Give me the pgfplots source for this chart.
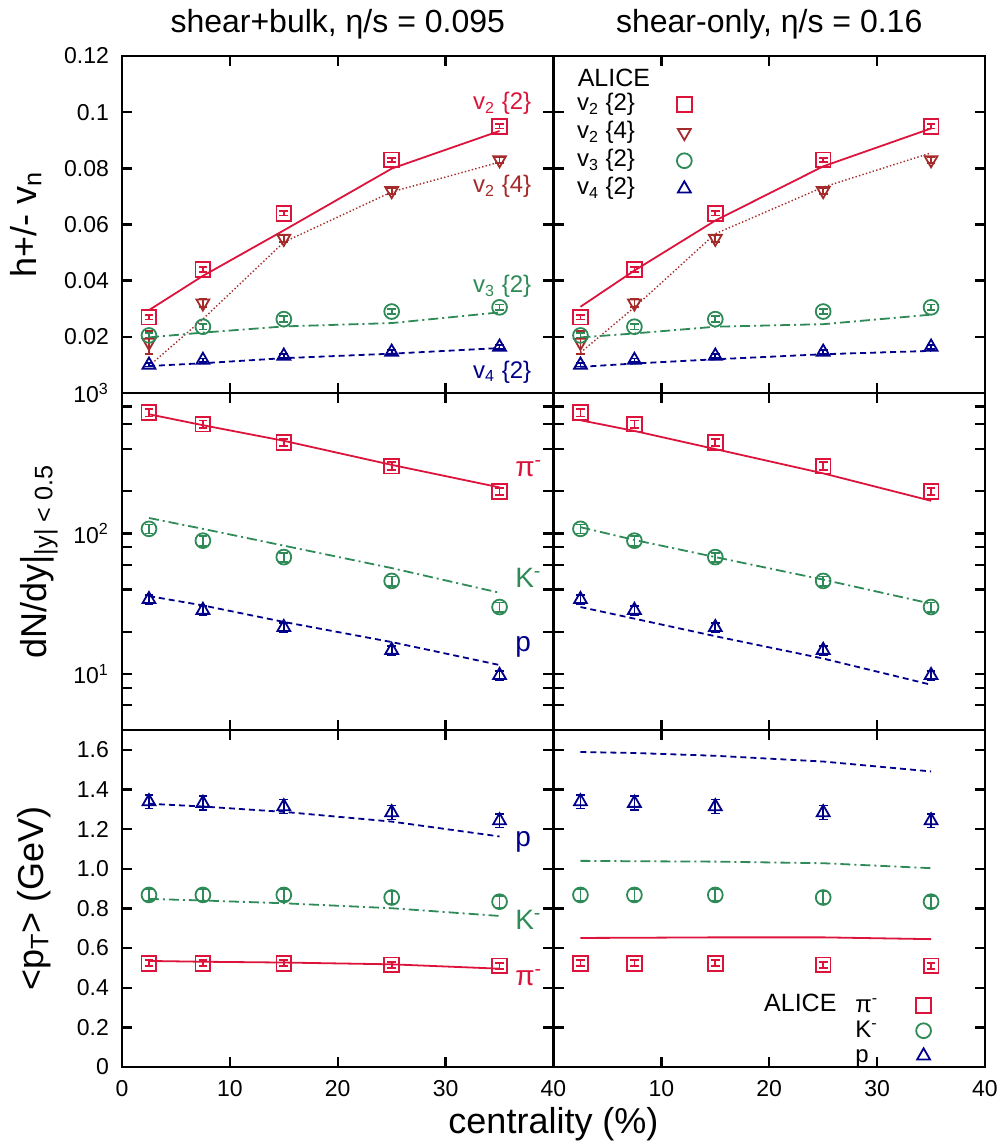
\documentclass[border=0pt]{standalone}
\usepackage{fontspec}
\setmainfont{Liberation Sans}
\usepackage{pgfplots}
\pgfplotsset{compat=1.18}
\usepgfplotslibrary{groupplots}

\definecolor{cred}{RGB}{220,20,60}
\definecolor{cbrown}{RGB}{165,42,42}
\definecolor{cgreen}{RGB}{46,139,87}
\definecolor{cblue}{RGB}{0,0,139}

\newcommand{\ann}{\fontsize{12}{14}\selectfont}
\newcommand{\pann}{\fontsize{14}{16}\selectfont}

\pgfplotsset{
  panel/.style={
    scale only axis, width=215.75pt, height=168.5pt,
    xmin=0, xmax=40, xtick={0,10,20,30,40},
    tick align=inside, tick pos=both,
    major tick length=5pt, minor tick length=5pt,
    axis line style={line width=1.4pt},
    every tick/.style={black, line width=1.2pt},
    ticklabel style={font=\fontsize{11.5}{13}\selectfont},
    xticklabel style={yshift=-3pt},
    yticklabel style={xshift=-3pt},
    xticklabels={}, yticklabels={},
    clip=false,
    every axis y label/.style={rotate=90, anchor=base, font=\fontsize{18}{20}\selectfont},
  },
  model/.style={line width=0.9pt, no marks},
  data/.style={only marks, line width=0.9pt, mark size=3.7pt, mark options={solid},
    error bars/y dir=both, error bars/y explicit,
    error bars/error bar style={line width=0.9pt, solid},
    error bars/error mark options={rotate=90, mark size=2.2pt, line width=0.9pt}},
  dsh/.style={dash pattern=on 3pt off 2pt},
  dshdot/.style={dash pattern=on 5pt off 2pt on 1pt off 2pt},
  dots/.style={line width=0.7pt, dash pattern=on 0.7pt off 1.1pt},
}

\begin{document}
\begin{tikzpicture}
\begin{groupplot}[group style={group name=G, group size=2 by 3, horizontal sep=0pt, vertical sep=0pt}, panel]

% ---------- row 1: flow harmonics, shear+bulk
\nextgroupplot[ymin=0, ymax=0.12, ytick={0,0.02,0.04,0.06,0.08,0.1,0.12},
  yticklabels={,0.02,0.04,0.06,0.08,0.1,0.12},
  ylabel={h+/- v\textsubscript{n}}, ylabel style={at={(rel axis cs:-0.199,0.5)}}]
\addplot[model, cred] coordinates {(2.5,0.0295) (7.5,0.0417) (15,0.0579) (25,0.0799) (35,0.0933)};
\addplot[model, cbrown, dots] coordinates {(2.5,0.0096) (7.5,0.0263) (15,0.0537) (25,0.0716) (35,0.0822)};
\addplot[model, cgreen, dshdot] coordinates {(2.5,0.0198) (7.5,0.0215) (15,0.0237) (25,0.0249) (35,0.0287)};
\addplot[model, cblue, dsh] coordinates {(2.5,0.0096) (7.5,0.0106) (15,0.0124) (25,0.0140) (35,0.0160)};
\addplot[data, cred, mark=square] coordinates {(2.5,0.027) +- (0,0.0008) (7.5,0.044) +- (0,0.0008) (15,0.064) +- (0,0.0008) (25,0.083) +- (0,0.0008) (35,0.095) +- (0,0.0008)};
\addplot[data, cbrown, mark=triangle, mark options={rotate=180}] coordinates {(2.5,0.018) +- (0,0.004) (7.5,0.032) +- (0,0.0015) (15,0.055) +- (0,0.0012) (25,0.072) +- (0,0.001) (35,0.083) +- (0,0.001)};
\addplot[data, cgreen, mark=o] coordinates {(2.5,0.0205) +- (0,0.001) (7.5,0.0236) +- (0,0.001) (15,0.0263) +- (0,0.001) (25,0.029) +- (0,0.001) (35,0.0305) +- (0,0.001)};
\addplot[data, cblue, mark=triangle] coordinates {(2.5,0.0100) +- (0,0.0006) (7.5,0.0117) +- (0,0.0006) (15,0.0132) +- (0,0.0006) (25,0.0146) +- (0,0.0006) (35,0.0164) +- (0,0.0006)};
\node[anchor=west, text=cred, font=\ann] at (axis cs:31.9,0.103) {v\textsubscript{2} \{2\}};
\node[anchor=west, text=cbrown, font=\ann] at (axis cs:31.9,0.0736) {v\textsubscript{2} \{4\}};
\node[anchor=west, text=cgreen, font=\ann] at (axis cs:31.9,0.0379) {v\textsubscript{3} \{2\}};
\node[anchor=west, text=cblue, font=\ann] at (axis cs:31.9,0.0075) {v\textsubscript{4} \{2\}};

% ---------- row 1: flow harmonics, shear-only
\nextgroupplot[ymin=0, ymax=0.12, ytick={0,0.02,0.04,0.06,0.08,0.1,0.12},
  legend style={at={(rel axis cs:0.035,0.91)}, anchor=north west, draw=none, fill=none,
    font=\ann, row sep=0pt, column sep=20pt, nodes={inner sep=1pt, text height=9pt, text depth=3pt}},
  legend plot pos=right, legend cell align=left]
\addplot[model, cred, forget plot] coordinates {(2.5,0.0307) (7.5,0.0436) (15,0.0614) (25,0.0807) (35,0.0942)};
\addplot[model, cbrown, dots, forget plot] coordinates {(2.5,0.0144) (7.5,0.0305) (15,0.0567) (25,0.0733) (35,0.0855)};
\addplot[model, cgreen, dshdot, forget plot] coordinates {(2.5,0.0198) (7.5,0.0212) (15,0.0236) (25,0.0245) (35,0.0279)};
\addplot[model, cblue, dsh, forget plot] coordinates {(2.5,0.0093) (7.5,0.0105) (15,0.0120) (25,0.0138) (35,0.0150)};
\addplot[data, cred, mark=square] coordinates {(2.5,0.027) +- (0,0.0008) (7.5,0.044) +- (0,0.0008) (15,0.064) +- (0,0.0008) (25,0.083) +- (0,0.0008) (35,0.095) +- (0,0.0008)};
\addlegendentry{v\textsubscript{2} \{2\}}
\addplot[data, cbrown, mark=triangle, mark options={rotate=180}] coordinates {(2.5,0.018) +- (0,0.004) (7.5,0.032) +- (0,0.0015) (15,0.055) +- (0,0.0012) (25,0.072) +- (0,0.001) (35,0.083) +- (0,0.001)};
\addlegendentry{v\textsubscript{2} \{4\}}
\addplot[data, cgreen, mark=o] coordinates {(2.5,0.0205) +- (0,0.001) (7.5,0.0236) +- (0,0.001) (15,0.0263) +- (0,0.001) (25,0.029) +- (0,0.001) (35,0.0305) +- (0,0.001)};
\addlegendentry{v\textsubscript{3} \{2\}}
\addplot[data, cblue, mark=triangle] coordinates {(2.5,0.0100) +- (0,0.0006) (7.5,0.0117) +- (0,0.0006) (15,0.0132) +- (0,0.0006) (25,0.0146) +- (0,0.0006) (35,0.0164) +- (0,0.0006)};
\addlegendentry{v\textsubscript{4} \{2\}}
\node[anchor=west, font=\fontsize{12.5}{14}\selectfont] at (rel axis cs:0.04,0.935) {ALICE};

% ---------- row 2: yields, shear+bulk
\nextgroupplot[ymode=log, ymin=4, ymax=1000, ytick={10,100,1000},
  minor ytick={6,8,20,40,60,80,200,400,600,800},
  yticklabels={10\textsuperscript{1},10\textsuperscript{2},10\textsuperscript{3}},
  ylabel={dN/dy|\textsubscript{|y| < 0.5}}, ylabel style={at={(rel axis cs:-0.176,0.5)}}]
\addplot[model, cred] coordinates {(2.5,706) (7.5,590) (15,457) (25,308) (35,213)};
\addplot[model, cgreen, dshdot] coordinates {(2.5,129) (7.5,108) (15,82) (25,56.8) (35,37.9)};
\addplot[model, cblue, dsh] coordinates {(2.5,35.9) (7.5,30.8) (15,23.5) (25,16.9) (35,11.6)};
\addplot[data, cred, mark=square] coordinates {(2.5,725) +- (0,45) (7.5,600) +- (0,37) (15,444) +- (0,27) (25,302) +- (0,19) (35,199) +- (0,12)};
\addplot[data, cgreen, mark=o] coordinates {(2.5,108) +- (0,8) (7.5,89) +- (0,7) (15,68) +- (0,5) (25,46) +- (0,3.5) (35,30) +- (0,2.3)};
\addplot[data, cblue, mark=triangle] coordinates {(2.5,34) +- (0,2.6) (7.5,28.5) +- (0,2.2) (15,21.5) +- (0,1.6) (25,14.8) +- (0,1.1) (35,9.8) +- (0,0.7)};
\node[anchor=west, text=cred, font=\pann] at (axis cs:35.8,289) {π\textsuperscript{-}};
\node[anchor=west, text=cgreen, font=\pann] at (axis cs:35.8,48) {K\textsuperscript{-}};
\node[anchor=west, text=cblue, font=\pann] at (axis cs:35.8,15.5) {p};

% ---------- row 2: yields, shear-only
\nextgroupplot[ymode=log, ymin=4, ymax=1000, ytick={10,100,1000},
  minor ytick={6,8,20,40,60,80,200,400,600,800}]
\addplot[model, cred] coordinates {(2.5,640) (7.5,537) (15,399) (25,268) (35,171)};
\addplot[model, cgreen, dshdot] coordinates {(2.5,111) (7.5,90) (15,68) (25,47) (35,31.7)};
\addplot[model, cblue, dsh] coordinates {(2.5,30) (7.5,24.8) (15,18.6) (25,12.9) (35,8.4)};
\addplot[data, cred, mark=square] coordinates {(2.5,725) +- (0,45) (7.5,600) +- (0,37) (15,444) +- (0,27) (25,302) +- (0,19) (35,199) +- (0,12)};
\addplot[data, cgreen, mark=o] coordinates {(2.5,108) +- (0,8) (7.5,89) +- (0,7) (15,68) +- (0,5) (25,46) +- (0,3.5) (35,30) +- (0,2.3)};
\addplot[data, cblue, mark=triangle] coordinates {(2.5,34) +- (0,2.6) (7.5,28.5) +- (0,2.2) (15,21.5) +- (0,1.6) (25,14.8) +- (0,1.1) (35,9.8) +- (0,0.7)};

% ---------- row 3: mean pT, shear+bulk
\nextgroupplot[ymin=0, ymax=1.7, ytick={0,0.2,0.4,0.6,0.8,1.0,1.2,1.4,1.6},
  yticklabels={0,0.2,0.4,0.6,0.8,1.0,1.2,1.4,1.6},
  xticklabels={0,10,20,30,40},
  ylabel={<p\textsubscript{T}> (GeV)}, ylabel style={at={(rel axis cs:-0.183,0.5)}}]
\addplot[model, cred] coordinates {(2.5,0.535) (7.5,0.531) (15,0.527) (25,0.518) (35,0.496)};
\addplot[model, cgreen, dshdot] coordinates {(2.5,0.848) (7.5,0.840) (15,0.826) (25,0.801) (35,0.762)};
\addplot[model, cblue, dsh] coordinates {(2.5,1.328) (7.5,1.314) (15,1.287) (25,1.238) (35,1.163)};
\addplot[data, cred, mark=square] coordinates {(2.5,0.523) +- (0,0.015) (7.5,0.523) +- (0,0.015) (15,0.523) +- (0,0.015) (25,0.515) +- (0,0.015) (35,0.51) +- (0,0.015)};
\addplot[data, cgreen, mark=o] coordinates {(2.5,0.868) +- (0,0.03) (7.5,0.868) +- (0,0.03) (15,0.868) +- (0,0.03) (25,0.855) +- (0,0.03) (35,0.834) +- (0,0.03)};
\addplot[data, cblue, mark=triangle] coordinates {(2.5,1.339) +- (0,0.035) (7.5,1.331) +- (0,0.035) (15,1.314) +- (0,0.035) (25,1.284) +- (0,0.035) (35,1.243) +- (0,0.035)};
\node[anchor=west, text=cblue, font=\pann] at (axis cs:35.8,1.136) {p};
\node[anchor=west, text=cgreen, font=\pann] at (axis cs:35.8,0.742) {K\textsuperscript{-}};
\node[anchor=west, text=cred, font=\pann] at (axis cs:35.8,0.45) {π\textsuperscript{-}};

% ---------- row 3: mean pT, shear-only
\nextgroupplot[ymin=0, ymax=1.7, ytick={0,0.2,0.4,0.6,0.8,1.0,1.2,1.4,1.6},
  xticklabels={,10,20,30,40},
  legend style={at={(rel axis cs:0.68,0.232)}, anchor=north west, draw=none, fill=none,
    font=\ann, row sep=0pt, column sep=18pt, nodes={inner sep=1pt, text height=8.5pt, text depth=2pt}},
  legend plot pos=right, legend cell align=left]
\addplot[model, cred, forget plot] coordinates {(2.5,0.651) (7.5,0.652) (15,0.654) (25,0.654) (35,0.645)};
\addplot[model, cgreen, dshdot, forget plot] coordinates {(2.5,1.040) (7.5,1.038) (15,1.036) (25,1.028) (35,1.003)};
\addplot[model, cblue, dsh, forget plot] coordinates {(2.5,1.589) (7.5,1.584) (15,1.570) (25,1.541) (35,1.491)};
\addplot[data, cred, mark=square] coordinates {(2.5,0.523) +- (0,0.015) (7.5,0.523) +- (0,0.015) (15,0.523) +- (0,0.015) (25,0.515) +- (0,0.015) (35,0.51) +- (0,0.015)};
\addlegendentry{π\textsuperscript{-}}
\addplot[data, cgreen, mark=o] coordinates {(2.5,0.868) +- (0,0.03) (7.5,0.868) +- (0,0.03) (15,0.868) +- (0,0.03) (25,0.855) +- (0,0.03) (35,0.834) +- (0,0.03)};
\addlegendentry{K\textsuperscript{-}}
\addplot[data, cblue, mark=triangle] coordinates {(2.5,1.339) +- (0,0.035) (7.5,1.331) +- (0,0.035) (15,1.314) +- (0,0.035) (25,1.284) +- (0,0.035) (35,1.243) +- (0,0.035)};
\addlegendentry{p}
\node[anchor=center, font=\fontsize{12.5}{14}\selectfont] at (rel axis cs:0.572,0.19) {ALICE};
\end{groupplot}

\node[font=\fontsize{16}{18}\selectfont, anchor=base, yshift=11.5pt] at (G c1r1.north) {shear+bulk, η/s = 0.095};
\node[font=\fontsize{16}{18}\selectfont, anchor=base, yshift=11.5pt] at (G c2r1.north) {shear-only, η/s = 0.16};
\node[font=\fontsize{18}{20}\selectfont, anchor=base, yshift=-33pt] at (G c1r3.south east) {centrality (\%)};

\pgfresetboundingbox
\path[use as bounding box] ([shift={(-61pt,-39pt)}]G c1r3.south west) rectangle ([shift={(7.5pt,28pt)}]G c2r1.north east);
\end{tikzpicture}
\end{document}
